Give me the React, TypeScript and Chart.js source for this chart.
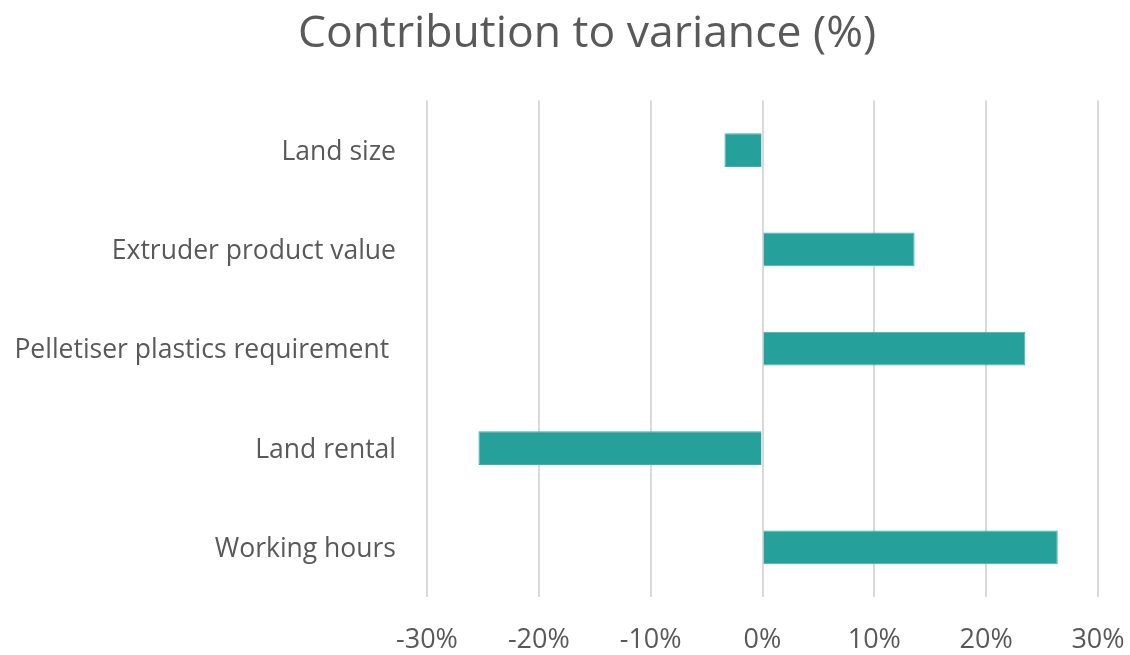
import React, { useEffect, useRef } from "react";
import { Chart, registerables } from "chart.js";

Chart.register(...registerables);

const categories = [
  "Land size",
  "Extruder product value",
  "Pelletiser plastics requirement ",
  "Land rental",
  "Working hours",
];
const contribution = [-3.4, 13.6, 23.5, -25.4, 26.4];
const xTicks = [-30, -20, -10, 0, 10, 20, 30];

const FONT = "'Open Sans', sans-serif";
const TEXT = "#595959";

const titleShift = {
  id: "titleShift",
  afterLayout(chart: any) {
    const t = chart.titleBlock;
    if (t) {
      t.left += 38;
      t.right += 38;
    }
  },
};

export default function App() {
  const ref = useRef<HTMLCanvasElement | null>(null);
  useEffect(() => {
    if (!ref.current) return;
    const chart = new Chart(ref.current, {
      type: "bar",
      data: {
        labels: categories,
        datasets: [
          {
            data: contribution,
            backgroundColor: "#26A09A",
            borderColor: "#3DB0AA",
            borderWidth: 1,
            barPercentage: 0.34,
            categoryPercentage: 1,
          },
        ],
      },
      plugins: [titleShift],
      options: {
        indexAxis: "y",
        animation: false,
        responsive: false,
        layout: { padding: { left: 0, right: 32, top: 0, bottom: 0 } },
        plugins: {
          legend: { display: false },
          tooltip: { enabled: false },
          title: {
            display: true,
            text: "Contribution to variance (%)",
            color: TEXT,
            font: { family: FONT, size: 44.5, weight: "normal" },
            padding: { top: 8, bottom: 39 },
          },
        },
        scales: {
          x: {
            min: -30,
            max: 30,
            afterBuildTicks: (s: any) => {
              s.ticks = xTicks.map((v) => ({ value: v }));
            },
            afterFit: (s: any) => {
              s.height = 58;
              s.paddingLeft = 0;
              s.paddingRight = 0;
            },
            ticks: {
              color: TEXT,
              font: { family: FONT, size: 27 },
              padding: 27,
              callback: (v: any) => `${v}%`,
            },
            grid: { color: "#D9D9D9", lineWidth: 2, drawTicks: false },
            border: { display: false },
          },
          y: {
            afterFit: (s: any) => {
              s.width = 427;
              s.paddingTop = 0;
              s.paddingBottom = 0;
            },
            ticks: {
              color: TEXT,
              font: { family: FONT, size: 26.5 },
              padding: 31,
              labelOffset: 2,
            },
            grid: { display: false, drawTicks: false },
            border: { display: false },
          },
        },
      },
    });
    return () => chart.destroy();
  }, []);
  return (
    <div style={{ position: "fixed", left: 0, top: 0, width: 1130, height: 655, background: "#fff" }}>
      <canvas ref={ref} width={1130} height={655} />
    </div>
  );
}
